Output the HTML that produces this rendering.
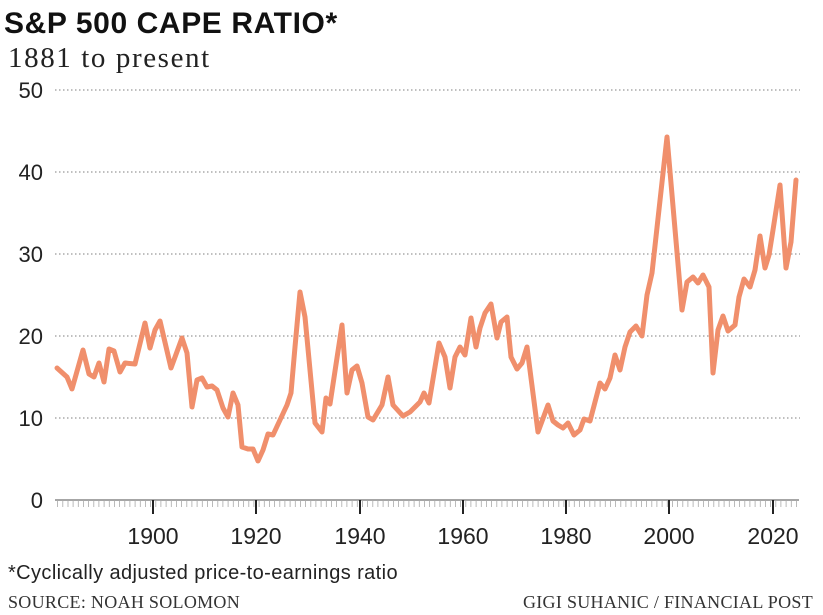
<!DOCTYPE html>
<html><head><meta charset="utf-8"><style>
body{margin:0;background:#fff;}
svg{display:block}
</style></head><body>
<svg width="823" height="615" xmlns="http://www.w3.org/2000/svg">
<rect width="823" height="615" fill="#fff"/>
<text x="4" y="33" font-family="Liberation Sans, sans-serif" font-weight="bold" font-size="30" fill="#111" letter-spacing="0.6">S&amp;P 500 CAPE RATIO*</text>
<text x="8" y="67" font-family="Liberation Serif, serif" font-size="29" fill="#222" letter-spacing="1.6">1881 to present</text>
<g stroke="#999" stroke-width="1.3" stroke-dasharray="1.5 2.5">
<line x1="55" y1="90" x2="800" y2="90"/>
<line x1="55" y1="172" x2="800" y2="172"/>
<line x1="55" y1="254" x2="800" y2="254"/>
<line x1="55" y1="336" x2="800" y2="336"/>
<line x1="55" y1="418" x2="800" y2="418"/>
</g>
<g font-family="Liberation Sans, sans-serif" font-size="22" fill="#222" text-anchor="end">
<text x="43" y="98">50</text><text x="43" y="180">40</text><text x="43" y="262">30</text>
<text x="43" y="344">20</text><text x="43" y="426">10</text><text x="43" y="508">0</text>
</g>
<line x1="55" y1="500" x2="799" y2="500" stroke="#888" stroke-width="1.5"/>
<g stroke="#222" stroke-width="2">
<line x1="153" y1="500" x2="153" y2="514"/><line x1="256" y1="500" x2="256" y2="514"/>
<line x1="360" y1="500" x2="360" y2="514"/><line x1="463" y1="500" x2="463" y2="514"/>
<line x1="566" y1="500" x2="566" y2="514"/><line x1="669" y1="500" x2="669" y2="514"/>
<line x1="773" y1="500" x2="773" y2="514"/>
</g>
<g font-family="Liberation Sans, sans-serif" font-size="23" fill="#222" text-anchor="middle">
<text x="153" y="544">1900</text><text x="256" y="544">1920</text><text x="360" y="544">1940</text>
<text x="463" y="544">1960</text><text x="566" y="544">1980</text><text x="669" y="544">2000</text>
<text x="773" y="544">2020</text>
</g>
<polyline fill="none" stroke="#f08f6c" stroke-width="5" stroke-linejoin="round" stroke-linecap="round" points="57,368 67,377 72,389 83,350 89,374 94,377 99,363 104,382 109,349 114,351 120,372 125,363 135,364 145,323 150,348 155,330 160,321 171,368 182,338 187,353 192,407 197,380 202,378 207,387 212,386 217,390 223,408 228,417 233,393 238,405 242,447 248,449 253,449 258,461 263,450 268,434 273,435 287,405 291,393 295,347 300,292 305,317 315,423 322,432 326,398 330,404 342,325 347,393 352,370 357,366 362,383 368,417 373,420 382,405 388,377 393,405 403,416 410,412 420,402 424,393 429,403 439,343 445,357 450,388 455,357 460,347 465,355 471,318 476,347 480,328 485,313 491,304 497,338 501,322 507,317 511,357 517,369 522,363 527,347 538,432 548,405 553,421 558,425 563,428 568,423 574,435 580,430 584,419 590,421 600,383 605,389 610,378 615,355 620,370 625,347 630,332 636,326 642,336 647,295 652,273 667,137 682,310 687,282 693,277 698,283 703,275 709,287 713,373 718,330 723,316 728,331 735,325 739,297 744,279 750,287 755,270 760,236 765,268 769,255 773,230 780,185 786,268 791,242 796,180"/>
<text x="8" y="579" font-family="Liberation Sans, sans-serif" font-size="20" fill="#222" letter-spacing="0.4">*Cyclically adjusted price-to-earnings ratio</text>
<text x="8" y="608" font-family="Liberation Serif, serif" font-size="18" fill="#333" letter-spacing="0.3">SOURCE: NOAH SOLOMON</text>
<text x="813" y="608" text-anchor="end" font-family="Liberation Serif, serif" font-size="18" fill="#333" letter-spacing="0.3">GIGI SUHANIC / FINANCIAL POST</text>
<g stroke="#aaa" stroke-width="0.8">
<path d="M57.6 500v7M62.8 500v7M68 500v7M73.1 500v7M78.3 500v7M83.4 500v7M88.6 500v7M93.8 500v7M98.9 500v7M104.1 500v7M109.3 500v7M114.4 500v7M119.6 500v7M124.8 500v7M129.9 500v7M135.1 500v7M140.3 500v7M145.4 500v7M150.6 500v7M155.8 500v7M160.9 500v7M166.1 500v7M171.3 500v7M176.4 500v7M181.6 500v7M186.8 500v7M191.9 500v7M197.1 500v7M202.3 500v7M207.4 500v7M212.6 500v7M217.8 500v7M222.9 500v7M228.1 500v7M233.3 500v7M238.4 500v7M243.6 500v7M248.8 500v7M253.9 500v7M259.1 500v7M264.3 500v7M269.4 500v7M274.6 500v7M279.8 500v7M284.9 500v7M290.1 500v7M295.3 500v7M300.4 500v7M305.6 500v7M310.8 500v7M315.9 500v7M321.1 500v7M326.3 500v7M331.4 500v7M336.6 500v7M341.8 500v7M346.9 500v7M352.1 500v7M357.3 500v7M362.4 500v7M367.6 500v7M372.8 500v7M377.9 500v7M383.1 500v7M388.3 500v7M393.4 500v7M398.6 500v7M403.8 500v7M408.9 500v7M414.1 500v7M419.3 500v7M424.4 500v7M429.6 500v7M434.8 500v7M439.9 500v7M445.1 500v7M450.3 500v7M455.4 500v7M460.6 500v7M465.8 500v7M470.9 500v7M476.1 500v7M481.3 500v7M486.4 500v7M491.6 500v7M496.8 500v7M501.9 500v7M507.1 500v7M512.3 500v7M517.4 500v7M522.6 500v7M527.8 500v7M532.9 500v7M538.1 500v7M543.3 500v7M548.4 500v7M553.6 500v7M558.8 500v7M563.9 500v7M569.1 500v7M574.3 500v7M579.4 500v7M584.6 500v7M589.8 500v7M594.9 500v7M600.1 500v7M605.3 500v7M610.4 500v7M615.6 500v7M620.8 500v7M625.9 500v7M631.1 500v7M636.3 500v7M641.4 500v7M646.6 500v7M651.8 500v7M656.9 500v7M662.1 500v7M667.3 500v7M672.4 500v7M677.6 500v7M682.8 500v7M687.9 500v7M693.1 500v7M698.3 500v7M703.4 500v7M708.6 500v7M713.8 500v7M718.9 500v7M724.1 500v7M729.3 500v7M734.4 500v7M739.6 500v7M744.8 500v7M749.9 500v7M755.1 500v7M760.3 500v7M765.4 500v7M770.6 500v7M775.8 500v7M780.9 500v7M786.1 500v7M791.3 500v7M796.4 500v7"/>
</g>
</svg>
</body></html>
